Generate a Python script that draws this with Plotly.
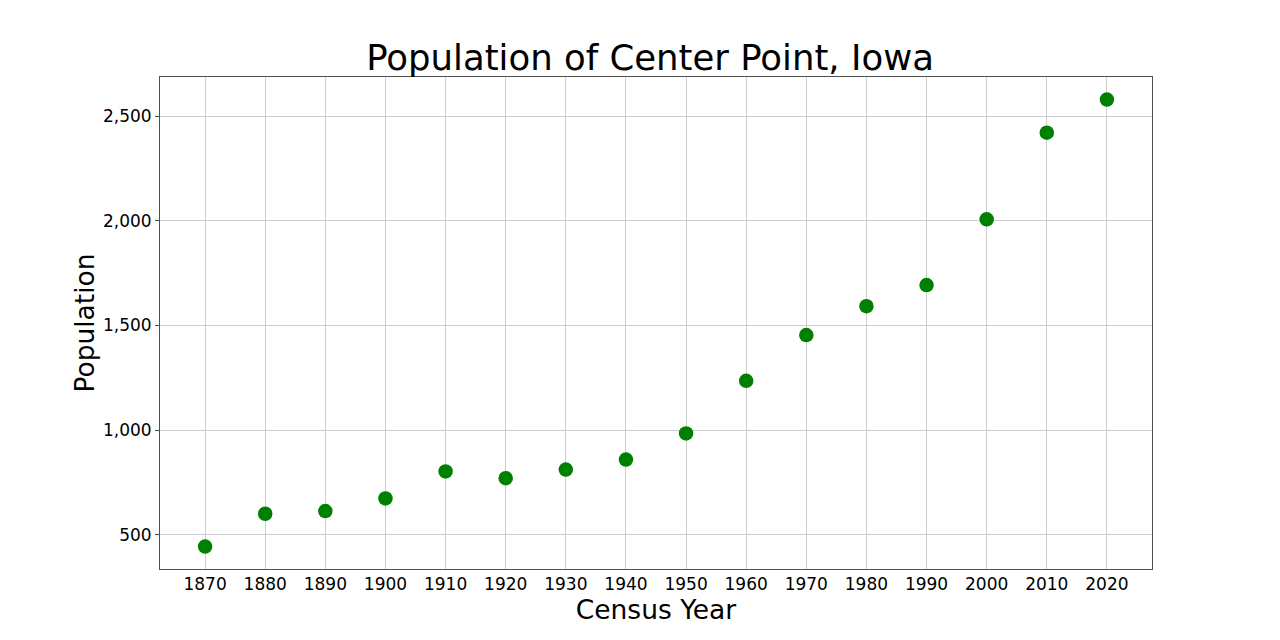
import plotly.graph_objects as go

# Census data for Center Point, Iowa
years = [1870, 1880, 1890, 1900, 1910, 1920, 1930, 1940, 1950,
         1960, 1970, 1980, 1990, 2000, 2010, 2020]
population = [443, 600, 613, 673, 802, 770, 811, 859, 984,
              1235, 1454, 1592, 1693, 2007, 2421, 2579]

fig = go.Figure()

fig.add_trace(go.Scatter(
    x=years, y=population, mode='markers',
    marker=dict(color='green', size=14.5),
))

axis_style = dict(
    showgrid=True,
    gridcolor='rgb(206, 206, 206)',
    gridwidth=1,
    showline=True,
    linecolor='rgb(80, 80, 80)',
    linewidth=1,
    mirror=True,
    ticks='outside',
    ticklen=4,
    tickcolor='rgb(80, 80, 80)',
    zeroline=False,
    tickfont=dict(size=17, color='black'),
)

fig.update_layout(
    width=1280, height=640,
    font=dict(family='DejaVu Sans', color='black'),
    title=dict(text='Population of Center Point, Iowa', x=0.5016, xanchor='center',
               y=0.923, yanchor='middle', font=dict(size=35.5)),
    xaxis=dict(axis_style, range=[1862.5, 2027.5], tickmode='array', tickvals=years,
               ticks='', ticklen=0,
               title=dict(text='Census Year', font=dict(size=26.5), standoff=0)),
    yaxis=dict(axis_style, range=[336, 2687], tickvals=[500, 1000, 1500, 2000, 2500],
               tickformat=',', title=dict(text='Population', font=dict(size=26.5), standoff=0)),
    showlegend=False,
    plot_bgcolor='white',
    paper_bgcolor='white',
    margin=dict(l=152, r=136, t=69, b=79),
)

fig.write_html("out.html")
